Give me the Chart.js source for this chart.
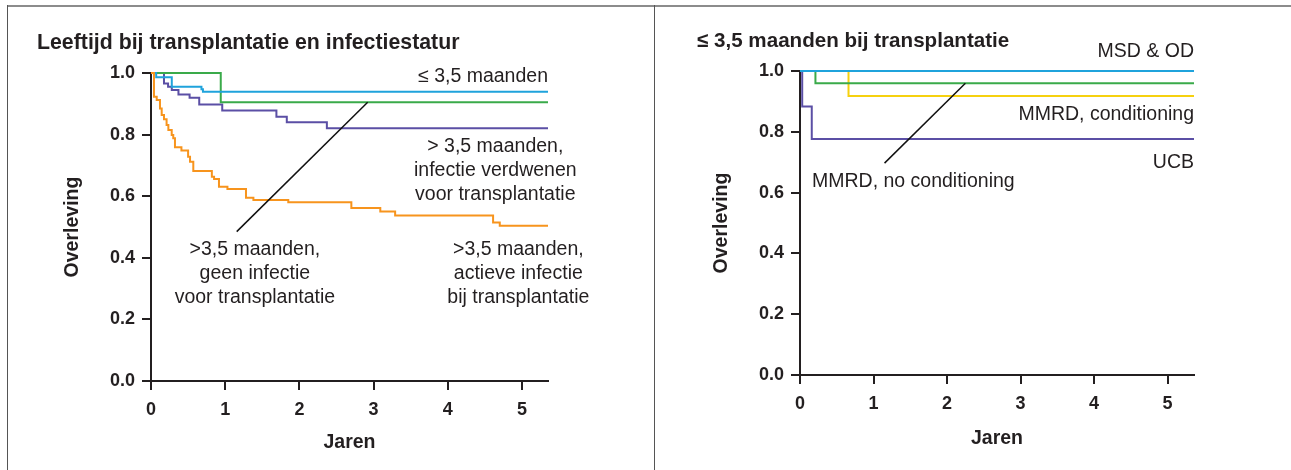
<!DOCTYPE html>
<html>
<head>
<meta charset="utf-8">
<script src="https://cdn.jsdelivr.net/npm/chart.js@4"></script>
<style>
  html, body { margin: 0; padding: 0; background: #fff; }
  #page { position: relative; width: 1291px; height: 470px; overflow: hidden; }
  .rule-top { position: absolute; left: 7px; right: 0; top: 5px; height: 2px; background: #8c8c8c; }
  .rule-left { position: absolute; left: 7px; top: 5px; bottom: 0; width: 1px; background: #555; }
  .rule-mid { position: absolute; left: 654px; top: 5px; bottom: 0; width: 1px; background: #555; }
  canvas { position: absolute; top: 7px; }
</style>
</head>
<body>
<div id="page">
  <div class="rule-top"></div>
  <div class="rule-left"></div>
  <div class="rule-mid"></div>
  <canvas id="left" width="646" height="463" style="left:8px"></canvas>
  <canvas id="right" width="636" height="463" style="left:655px"></canvas>
</div>
<script>
// ---- data ----
const X_TICKS = [0, 1, 2, 3, 4, 5];
const Y_TICKS = [0, 0.2, 0.4, 0.6, 0.8, 1.0];
const X_TITLE = "Jaren";
const Y_TITLE = "Overleving";

// left panel: leeftijd en infectiestatus
const leftTitle = "Leeftijd bij transplantatie en infectiestatur";
const youngTimes = [0, 0.07, 0.28, 0.68, 0.70, 5.35];
const youngSurv = [1, 0.986, 0.955, 0.947, 0.939, 0.939];
const noInfTimes = [0, 0.94, 5.35];
const noInfSurv = [1, 0.905, 0.905];
const clearedTimes = [0, 0.175, 0.23, 0.28, 0.37, 0.52, 0.65, 0.96, 1.69, 1.83, 2.37, 5.35];
const clearedSurv = [1, 0.966, 0.955, 0.945, 0.93, 0.92, 0.898, 0.878, 0.858, 0.84, 0.821, 0.821];
const activeTimes = [0, 0.04, 0.077, 0.121, 0.144, 0.175, 0.21, 0.234, 0.279, 0.30, 0.323, 0.41, 0.50,
    0.526, 0.57, 0.82, 0.85, 0.916, 1.03, 1.28, 1.38, 1.85, 2.70, 3.09, 3.29, 4.61, 4.70, 5.35];
const activeSurv = [1, 0.923, 0.912, 0.885, 0.864, 0.850, 0.831, 0.815, 0.799, 0.788, 0.759, 0.748, 0.728,
    0.712, 0.682, 0.663, 0.656, 0.631, 0.623, 0.595, 0.588, 0.580, 0.562, 0.550, 0.537, 0.515, 0.504, 0.504];
const leftLeader = [[2.92, 0.905], [1.155, 0.485]];
const leftLabels = [
    ["≤ 3,5 maanden"],
    ["> 3,5 maanden,", "infectie verdwenen", "voor transplantatie"],
    [">3,5 maanden,", "geen infectie", "voor transplantatie"],
    [">3,5 maanden,", "actieve infectie", "bij transplantatie"]
];

// right panel: <= 3,5 maanden per donortype
const rightTitle = "≤ 3,5 maanden bij transplantatie";
const msdTimes = [0, 5.36];
const msdSurv = [1, 1];
const mmrdNoCondTimes = [0, 0.21, 5.36];
const mmrdNoCondSurv = [1, 0.96, 0.96];
const mmrdCondTimes = [0, 0.66, 5.36];
const mmrdCondSurv = [1, 0.918, 0.918];
const ucbTimes = [0, 0.03, 0.16, 5.36];
const ucbSurv = [1, 0.883, 0.776, 0.776];
const rightLeader = [[2.25, 0.96], [1.15, 0.697]];
const rightLabels = [
    ["MSD & OD"],
    ["MMRD, conditioning"],
    ["UCB"],
    ["MMRD, no conditioning"]
];

// ---- styling ----
const INK = "#231f20";
const FONT = "Arial, 'Liberation Sans', Helvetica, sans-serif";
const COLORS = { orange: "#f7941d", cyan: "#1fa3dc", green: "#3aaa4a", purple: "#5b4fa5", yellow: "#f6d10f" };

const toPoints = (xs, ys) => xs.map((x, i) => ({ x, y: ys[i] }));

function curve(xs, ys, color) {
    return { data: toPoints(xs, ys), borderColor: color, borderWidth: 2, stepped: "before", pointRadius: 0, fill: false, clip: 4 };
}

function leader(pts) {
    return { data: pts.map(([x, y]) => ({ x, y })), borderColor: "#111", borderWidth: 1.5, pointRadius: 0, fill: false };
}

// draws the panel title and the curve labels as canvas text
const textPlugin = {
    id: "panelText",
    afterDraw(chart, args, opts) {
        const { ctx, scales } = chart;
        ctx.save();
        ctx.fillStyle = INK;
        ctx.textBaseline = "middle";
        ctx.font = `bold ${opts.titleSize}px ${FONT}`;
        ctx.textAlign = "left";
        ctx.fillText(opts.title, opts.titleAt[0], opts.titleAt[1]);

        ctx.font = `19.5px ${FONT}`;
        opts.labels.forEach((lines, i) => {
            const [x, y, align] = opts.anchors[i];
            const px = scales.x.getPixelForValue(x);
            const py = scales.y.getPixelForValue(y);
            ctx.textAlign = align;
            lines.forEach((line, j) => ctx.fillText(line, px, py + j * 24));
        });
        ctx.restore();
    }
};

function buildChart(canvas, cfg) {
    const axisGrid = { drawOnChartArea: false, drawTicks: true, tickLength: 9, color: INK, lineWidth: 2 };
    const axisBorder = { display: true, width: 2, color: INK };
    const tickFont = { family: FONT, size: 18, weight: "bold" };
    const titleFont = { family: FONT, size: 19.5, weight: "bold" };

    return new Chart(canvas, {
        type: "line",
        data: { datasets: cfg.datasets },
        options: {
            responsive: false,
            animation: false,
            events: [],
            layout: { padding: { left: 0, top: cfg.top, right: cfg.right, bottom: 0 } },
            plugins: {
                legend: { display: false },
                tooltip: { enabled: false },
                panelText: cfg.text
            },
            scales: {
                x: {
                    type: "linear",
                    min: 0,
                    max: cfg.xMax,
                    afterFit: s => { s.height = cfg.xHeight; },
                    afterBuildTicks: s => { s.ticks = X_TICKS.map(value => ({ value })); },
                    ticks: { font: tickFont, color: INK, padding: 9, maxRotation: 0 },
                    grid: axisGrid,
                    border: axisBorder,
                    title: { display: true, text: X_TITLE, font: titleFont, color: INK, padding: { top: 0, bottom: cfg.xTitlePad } }
                },
                y: {
                    type: "linear",
                    min: 0,
                    max: 1,
                    afterFit: s => { s.width = cfg.yWidth; },
                    afterBuildTicks: s => { s.ticks = Y_TICKS.map(value => ({ value })); },
                    ticks: { font: tickFont, color: INK, padding: 7, callback: v => v.toFixed(1) },
                    grid: axisGrid,
                    border: axisBorder,
                    title: { display: true, text: Y_TITLE, font: titleFont, color: INK, padding: { top: cfg.yTitlePad, bottom: 0 } }
                }
            }
        },
        plugins: [textPlugin]
    });
}

buildChart(document.getElementById("left"), {
    datasets: [
        leader(leftLeader),
        curve(activeTimes, activeSurv, COLORS.orange),
        curve(youngTimes, youngSurv, COLORS.cyan),
        curve(noInfTimes, noInfSurv, COLORS.green),
        curve(clearedTimes, clearedSurv, COLORS.purple)
    ],
    xMax: 5.35,
    top: 66, right: 106, xHeight: 89, yWidth: 143,
    xTitlePad: 16, yTitlePad: 53,
    text: {
        title: leftTitle,
        titleSize: 21.3,
        titleAt: [29, 36],
        labels: leftLabels,
        anchors: [[5.35, 0.987, "right"], [4.64, 0.76, "center"], [1.40, 0.425, "center"], [4.95, 0.425, "center"]]
    }
});

buildChart(document.getElementById("right"), {
    datasets: [
        leader(rightLeader),
        curve(msdTimes, msdSurv, COLORS.cyan),
        curve(mmrdNoCondTimes, mmrdNoCondSurv, COLORS.green),
        curve(mmrdCondTimes, mmrdCondSurv, COLORS.yellow),
        curve(ucbTimes, ucbSurv, COLORS.purple)
    ],
    xMax: 5.36,
    top: 64, right: 97, xHeight: 95, yWidth: 145,
    xTitlePad: 20, yTitlePad: 55,
    text: {
        title: rightTitle,
        titleSize: 20.6,
        titleAt: [42, 34],
        labels: rightLabels,
        anchors: [[5.36, 1.0625, "right"], [5.36, 0.855, "right"], [5.36, 0.70, "right"], [0.163, 0.635, "left"]]
    }
});
</script>
</body>
</html>
